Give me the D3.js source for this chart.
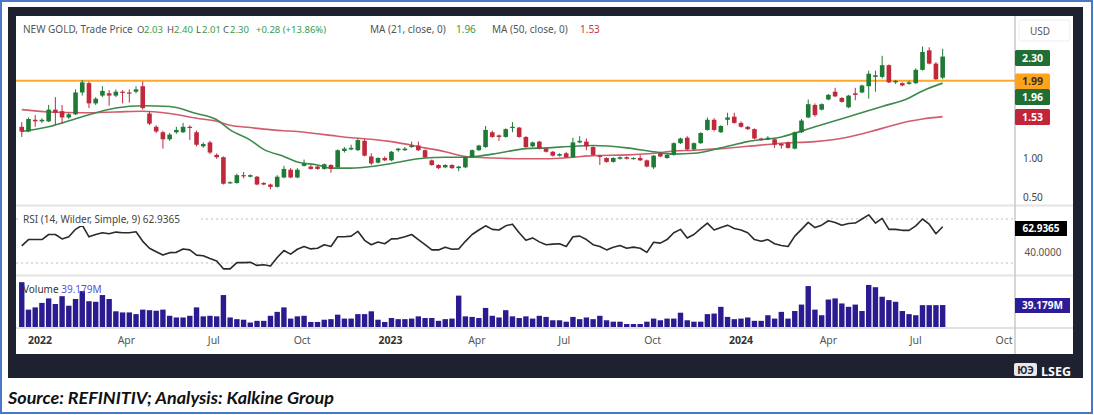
<!DOCTYPE html>
<html><head><meta charset="utf-8">
<script src="https://cdn.jsdelivr.net/npm/d3@7/dist/d3.min.js"></script>
<style>
body{margin:0;background:#fff;}
svg{display:block;font-family:"Noto Sans",sans-serif;}
</style>
</head><body>
<svg id="c" width="1094" height="415"></svg>
<script>
// ---------- DATA ----------
const firstWeek = "2021-12-13"; // weekly candles, one per Monday
const opens = [1.40,1.34,1.49,1.47,1.47,1.62,1.60,1.52,1.56,1.84, 1.96,1.70,1.80,1.83,1.80,1.85,1.84,1.85,1.92,1.57,
 1.40,1.33,1.24,1.33,1.33,1.40,1.33,1.15,1.20,1.04, 1.01,0.68,0.68,0.78,0.76,0.76,0.68,0.66,0.63,0.75,
 0.85,0.75,0.90,0.89,0.89,0.86,0.91,0.88,1.09,1.11, 1.10,1.22,1.02,0.94,1.00,0.97,1.10,1.10,1.14,1.16,
 1.10,0.97,0.91,0.88,0.91,0.87,0.88,1.01,1.10,1.14, 1.33,1.29,1.27,1.39,1.39,1.27,1.15,1.21,1.12,1.08,
 1.03,1.06,1.01,1.20,1.21,1.14,1.03,1.00,0.95,0.99, 1.01,0.99,1.00,0.97,0.88,1.06,1.00,1.04,1.19,1.26,
 1.11,1.19,1.36,1.49,1.33,1.49,1.53,1.45,1.40,1.37, 1.25,1.24,1.24,1.18,1.20,1.12,1.33,1.52,1.68,1.62,
 1.75,1.85,1.77,1.65,1.83,1.84,1.92,2.04,2.04,2.19, 1.97,1.96,1.95,1.96,2.13,2.38,2.21,2.03];
const highs = [1.46,1.52,1.55,1.51,1.68,1.78,1.68,1.58,1.88,2.00, 1.98,1.78,1.92,1.87,1.88,1.87,1.88,1.92,1.98,1.60,
 1.42,1.35,1.32,1.40,1.45,1.42,1.35,1.20,1.22,1.06, 1.02,0.70,0.80,0.82,0.79,0.77,0.69,0.67,0.78,0.90,
 0.87,0.87,0.98,0.91,0.90,0.93,0.92,1.11,1.14,1.17, 1.25,1.24,1.06,1.01,1.02,1.09,1.13,1.14,1.21,1.21,
 1.11,0.98,0.92,0.92,0.92,0.90,1.02,1.11,1.17,1.41, 1.35,1.30,1.38,1.46,1.40,1.28,1.21,1.22,1.13,1.09,
 1.06,1.08,1.26,1.28,1.25,1.15,1.04,1.01,1.01,1.02, 1.02,1.01,1.04,0.98,1.04,1.08,1.05,1.20,1.26,1.28,
 1.20,1.33,1.52,1.51,1.42,1.58,1.58,1.47,1.41,1.38, 1.26,1.28,1.25,1.19,1.21,1.34,1.50,1.75,1.70,1.70,
 1.82,1.90,1.78,1.81,1.90,1.94,2.12,2.12,2.31,2.20, 2.00,1.97,1.99,2.15,2.43,2.42,2.23,2.40];
const lows = [1.27,1.33,1.40,1.45,1.46,1.42,1.44,1.50,1.55,1.80, 1.64,1.68,1.78,1.67,1.78,1.70,1.71,1.83,1.62,1.42,
 1.32,1.12,1.22,1.31,1.32,1.23,1.15,1.13,1.05,0.99, 0.66,0.67,0.67,0.74,0.75,0.65,0.65,0.60,0.62,0.74,
 0.74,0.74,0.89,0.85,0.85,0.85,0.81,0.87,1.07,1.10, 1.09,1.02,0.91,0.93,0.96,0.96,1.08,1.09,1.13,1.09,
 1.00,0.90,0.86,0.87,0.86,0.83,0.87,1.00,1.09,1.13, 1.26,1.22,1.26,1.33,1.26,1.13,1.14,1.11,1.07,1.02,
 1.02,1.00,1.00,1.19,1.10,1.03,0.91,0.94,0.94,0.98, 0.98,0.98,0.96,0.88,0.86,1.01,0.99,1.03,1.18,1.10,
 1.10,1.18,1.35,1.34,1.32,1.42,1.44,1.39,1.36,1.24, 1.22,1.23,1.13,1.12,1.12,1.11,1.32,1.51,1.53,1.61,
 1.74,1.78,1.71,1.64,1.74,1.83,1.76,1.85,2.02,1.96, 1.95,1.92,1.94,1.95,2.12,2.20,2.00,2.01];
const closes = [1.34,1.50,1.47,1.49,1.62,1.58,1.52,1.56,1.84,1.97, 1.70,1.76,1.86,1.80,1.85,1.84,1.83,1.88,1.64,1.44,
 1.34,1.24,1.30,1.36,1.40,1.39,1.17,1.18,1.07,1.01, 0.67,0.69,0.78,0.77,0.78,0.66,0.66,0.63,0.76,0.86,
 0.75,0.85,0.93,0.86,0.86,0.92,0.86,1.10,1.12,1.13, 1.23,1.03,0.93,1.00,0.97,1.08,1.12,1.12,1.16,1.10,
 1.01,0.91,0.87,0.91,0.87,0.89,1.01,1.10,1.16,1.36, 1.27,1.27,1.37,1.40,1.27,1.14,1.20,1.12,1.08,1.03,
 1.05,1.01,1.20,1.22,1.15,1.04,1.02,0.95,1.00,1.01, 0.99,1.00,0.97,0.89,1.03,1.02,1.04,1.19,1.25,1.11,
 1.19,1.32,1.49,1.36,1.41,1.52,1.45,1.40,1.37,1.25, 1.23,1.26,1.17,1.16,1.13,1.33,1.48,1.69,1.55,1.69,
 1.81,1.79,1.72,1.80,1.81,1.93,2.08,2.06,2.19,1.97, 1.99,1.93,1.97,2.13,2.36,2.21,2.01,2.30];
const volumes = [80,31,35,43,51,41,55,38,50,64, 46,45,57,50,28,26,26,23,31,30,
 29,31,20,17,17,20,35,19,20,19, 57,17,14,13,8,11,11,20,27,35,
 15,19,20,9,9,13,14,22,15,15, 23,23,28,13,9,16,14,14,15,19,
 16,16,11,14,15,56,19,18,16,34, 20,17,30,19,16,19,15,20,18,12,
 12,9.5,18,14,17,14,20,12,9.5,9.5, 5.3,5.3,5.3,9.5,15,12,15,15,25.5,12,
 9.5,9.5,23,24,36,18,14,15,17,11, 11,21,15,27,15,28.5,40,73,31,21,
 49,51,42,36,40,28.5,75,71,54,48, 45,28.5,23,21,39,39,39,39.18];
const rsi = [45.6,51.3,51.3,51.3,55.9,55.9,51.9,53.8,60.6,64.4, 53.8,55.9,57.5,56.6,58.1,57.5,57.5,58.4,49.7,43.4,
 40.3,37.2,39.4,39.7,42.8,41.9,37.2,36.6,34.1,31.9, 24.7,24.7,30.3,30.3,30.6,27.8,28.4,27.2,35.0,41.3,
 38.1,42.5,45.0,42.8,43.4,46.6,45.0,53.8,53.8,54.4, 58.8,50.6,46.6,49.1,47.5,51.9,52.2,53.8,55.9,51.3,
 46.6,41.9,41.9,44.4,42.5,42.8,49.7,55.9,60.0,63.8, 60.6,60.0,63.8,65.3,57.5,50.6,52.8,49.2,46.6,47.2,
 47.5,45.0,53.8,54.4,51.3,46.6,45.0,41.9,44.4,45.9, 43.4,44.4,43.4,39.7,48.8,48.1,51.3,57.5,60.6,52.8,
 55.9,61.3,66.3,60.0,62.2,64.4,61.3,60.0,57.5,51.3, 49.7,51.3,47.5,45.9,45.0,54.4,60.6,66.9,62.2,64.4,
 68.4,66.9,64.4,65.9,66.3,70.0,73.8,66.3,70.6,60.6, 60.6,59.7,59.7,63.8,70.0,65.3,56.6,62.94];
// moving averages read at selected candles (candle index -> value)
const maIdx = [0,4,9,14,18,22,26,29,31,34,36,39,41,44,46,49,52,55,60,63,66,70,75,78,82,85,90,94,97,100,104,108,113,118,123,128,132,134,137];
const ma21 = [1.34,1.40,1.53,1.64,1.67,1.66,1.57,1.49,1.36,1.23,1.11,1.02,0.95,0.91,0.87,0.87,0.89,0.93,1.00,1.01,1.01,1.05,1.12,1.13,1.15,1.16,1.13,1.08,1.05,1.06,1.13,1.21,1.27,1.40,1.53,1.66,1.77,1.86,1.96];
const ma50 = [1.62,1.59,1.58,1.59,1.60,1.57,1.51,1.47,1.42,1.39,1.37,1.35,1.34,1.31,1.29,1.26,1.24,1.21,1.13,1.08,1.02,1.00,0.99,0.99,1.01,1.03,1.04,1.06,1.09,1.10,1.12,1.15,1.19,1.21,1.27,1.38,1.47,1.50,1.53];
const resistance = 1.99;
const xTickDates = ["2022-01-01","2022-04-01","2022-07-01","2022-10-01","2023-01-01","2023-04-01","2023-07-01","2023-10-01","2024-01-01","2024-04-01","2024-07-01","2024-10-01"];
const xTickLabels = ["2022","Apr","Jul","Oct","2023","Apr","Jul","Oct","2024","Apr","Jul","Oct"];
const priceTicks = [0.5, 1.0];
const priceTags = [{v:"2.30", c:"#1f6e33", t:"#fff"},{v:"1.99", c:"#ffa31a", t:"#333"},{v:"1.96", c:"#1f6e33", t:"#fff"},{v:"1.53", c:"#c02539", t:"#fff"}];
const rsiLast = "62.9365", rsiTick = "40.0000", volLast = "39.179M";

// ---------- SCALES ----------
const parse = d3.timeParse("%Y-%m-%d");
const dates = d3.range(opens.length).map(i => d3.timeDay.offset(parse(firstWeek), 7*i));
const x = d3.scaleTime().domain([parse("2022-01-01"), parse("2024-01-01")]).range([40, 741]);
const yP = d3.scaleLinear().domain([0.5, 1.0]).range([197, 158]);
const yR = d3.scaleLinear().domain([30, 70]).range([263, 219]);
const yV = d3.scaleLinear().domain([0, 91]).range([327, 276]);

const svg = d3.select("#c");
// frame
svg.append("rect").attr("x",1).attr("y",1).attr("width",1091).attr("height",412)
  .attr("fill","#fff").attr("stroke","#4a78c8").attr("stroke-width",2);
svg.append("rect").attr("x",8).attr("y",7).attr("width",1075).attr("height",371).attr("fill","#1d2130");
svg.append("rect").attr("x",16).attr("y",16).attr("width",1057).attr("height",338).attr("fill","#fff");

svg.append("defs").append("clipPath").attr("id","pc").append("rect")
  .attr("x",16).attr("y",16).attr("width",999).attr("height",338);

// separators
[205.5, 275.5].forEach(y => svg.append("line").attr("x1",16).attr("x2",1073).attr("y1",y).attr("y2",y)
  .attr("stroke","#e4e4e4").attr("stroke-width",2));
svg.append("line").attr("x1",16).attr("x2",1073).attr("y1",328).attr("y2",328).attr("stroke","#c4c4c4").attr("stroke-width",1.2);
svg.append("line").attr("x1",1015).attr("x2",1015).attr("y1",16).attr("y2",354).attr("stroke","#c8c8c8").attr("stroke-width",1.5);

const plot = svg.append("g").attr("clip-path","url(#pc)");

// resistance line
plot.append("line").attr("x1",16).attr("x2",1015).attr("y1",yP(resistance)).attr("y2",yP(resistance))
  .attr("stroke","#ffa726").attr("stroke-width",2);

// MA lines
const maLine = vals => d3.line().curve(d3.curveMonotoneX)
  .x((d,i) => x(dates[maIdx[i]])).y(d => yP(d))(vals);
plot.append("path").attr("d", maLine(ma50)).attr("fill","none").attr("stroke","#cc4a5d").attr("stroke-width",1.6).attr("opacity",0.9);
plot.append("path").attr("d", maLine(ma21)).attr("fill","none").attr("stroke","#3e8a4b").attr("stroke-width",1.6);

// candles
const up = "#1f7a36", dn = "#c0283c";
const cg = plot.append("g");
opens.forEach((o,i) => {
  const c = closes[i], col = c >= o ? up : dn, cx = x(dates[i]);
  cg.append("line").attr("x1",cx).attr("x2",cx).attr("y1",yP(highs[i])).attr("y2",yP(lows[i]))
    .attr("stroke",col).attr("stroke-width",1);
  const top = yP(Math.max(o,c)), h = Math.max(1.2, Math.abs(yP(o)-yP(c)));
  cg.append("rect").attr("x",cx-2.3).attr("y",top).attr("width",4.6).attr("height",h).attr("fill",col);
});

// RSI
[70,30].forEach(v => plot.append("line").attr("x1",16).attr("x2",1015).attr("y1",yR(v)).attr("y2",yR(v))
  .attr("stroke","#bdbdbd").attr("stroke-dasharray","2,3"));
plot.append("path").attr("d", d3.line().x((d,i)=>x(dates[i])).y(d=>yR(d))(rsi))
  .attr("fill","none").attr("stroke","#2a2a2a").attr("stroke-width",1.6).attr("stroke-linejoin","round");

// volume
plot.append("g").selectAll("rect").data(volumes).join("rect")
  .attr("x",(d,i)=>x(dates[i])-2.7).attr("width",5.4)
  .attr("y",d=>yV(d)).attr("height",d=>yV(0)-yV(d)).attr("fill","#2b1b90");

// header
const hdr = svg.append("text").attr("y",33).attr("font-size",10).attr("fill","#555");
const seg = (t,xx,col,fs) => hdr.append("tspan").attr("x",xx).attr("fill",col).attr("font-size",fs||10).text(t);
const gr = "#3a9a4c";
seg("NEW GOLD, Trade Price",23,"#555");
seg("O",137,"#555",9.5); seg("2.03",144,gr,9.5);
seg("H",167,"#555",9.5); seg("2.40",174,gr,9.5);
seg("L",196,"#555",9.5); seg("2.01",202,gr,9.5);
seg("C",223,"#555",9.5); seg("2.30",230,gr,9.5);
seg("+0.28 (+13.86%)",256,gr,9.5);
seg("MA (21, close, 0)",370,"#555"); seg("1.96",456,gr);
seg("MA (50, close, 0)",492,"#555"); seg("1.53",580,"#c8364a");

// RSI label
svg.append("rect").attr("x",20).attr("y",212).attr("width",180).attr("height",14).attr("fill","#fff");
svg.append("text").attr("x",23).attr("y",223).attr("font-size",10).attr("fill","#444")
  .text("RSI (14, Wilder, Simple, 9)  " + rsiLast);
// Volume label
const vl = svg.append("text").attr("x",23).attr("y",293).attr("font-size",10);
vl.append("tspan").attr("fill","#333").text("Volume  ");
vl.append("tspan").attr("fill","#5b4fd0").text(volLast);

// right axis
svg.append("rect").attr("x",1019).attr("y",20).attr("width",51).attr("height",21).attr("rx",3)
  .attr("fill","#fff").attr("stroke","#eee");
svg.append("text").attr("x",1030).attr("y",34.5).attr("font-size",10).attr("fill","#555").text("USD");
priceTicks.forEach(v => svg.append("text").attr("x",1023).attr("y",yP(v)+3.5).attr("font-size",10)
  .attr("fill","#444").text(d3.format(".2f")(v)));
const tagY = [58, 81.5, 97, 117];
priceTags.forEach((t,i) => {
  svg.append("rect").attr("x",1015).attr("y",tagY[i]-8).attr("width",35).attr("height",16).attr("rx",1.5).attr("fill",t.c);
  svg.append("text").attr("x",1032.5).attr("y",tagY[i]+3.6).attr("text-anchor","middle").attr("font-size",10.5)
    .attr("font-weight","bold").attr("fill",t.t).text(t.v);
});
svg.append("rect").attr("x",1015).attr("y",221).attr("width",52).attr("height",15).attr("fill","#000");
svg.append("text").attr("x",1041).attr("y",232).attr("text-anchor","middle").attr("font-size",10).attr("font-weight","bold")
  .attr("fill","#fff").text(rsiLast);
svg.append("text").attr("x",1043).attr("y",yR(40)+3.5).attr("text-anchor","middle").attr("font-size",10).attr("fill","#555").text(rsiTick);
svg.append("rect").attr("x",1015).attr("y",298).attr("width",55).attr("height",15).attr("fill","#2d1c98");
svg.append("text").attr("x",1042.5).attr("y",309).attr("text-anchor","middle").attr("font-size",10).attr("font-weight","bold")
  .attr("fill","#fff").text(volLast);

// x axis
const xa = svg.append("g").attr("clip-path","url(#pc)");
xTickDates.forEach((d,i) => {
  const yr = /^\d{4}$/.test(xTickLabels[i]);
  xa.append("text").attr("x",x(parse(d))).attr("y",344).attr("text-anchor","middle").attr("font-size",10.5)
    .attr("font-weight", yr ? "bold" : "normal").attr("fill", yr ? "#333" : "#555").text(xTickLabels[i]);
});

// LSEG logo
const lg = svg.append("g");
lg.append("rect").attr("x",1014).attr("y",363).attr("width",23).attr("height",13).attr("rx",2).attr("fill","#e8e8e8");
lg.append("text").attr("x",1025.5).attr("y",373.5).attr("text-anchor","middle").attr("font-size",10).attr("font-weight","bold").attr("fill","#1d2130").text("ЮЭ");
svg.append("text").attr("x",1041).attr("y",376).attr("font-size",12.5).attr("font-weight","bold")
  .attr("font-family","'Open Sans',sans-serif").attr("fill","#fff").text("LSEG");

// footer
svg.append("text").attr("x",8).attr("y",404).attr("font-family","Lato,sans-serif").attr("font-size",17)
  .attr("font-weight","bold").attr("font-style","italic").attr("fill","#111")
  .attr("textLength",326).attr("lengthAdjust","spacingAndGlyphs")
  .text("Source: REFINITIV; Analysis: Kalkine Group");
</script>
</body></html>
